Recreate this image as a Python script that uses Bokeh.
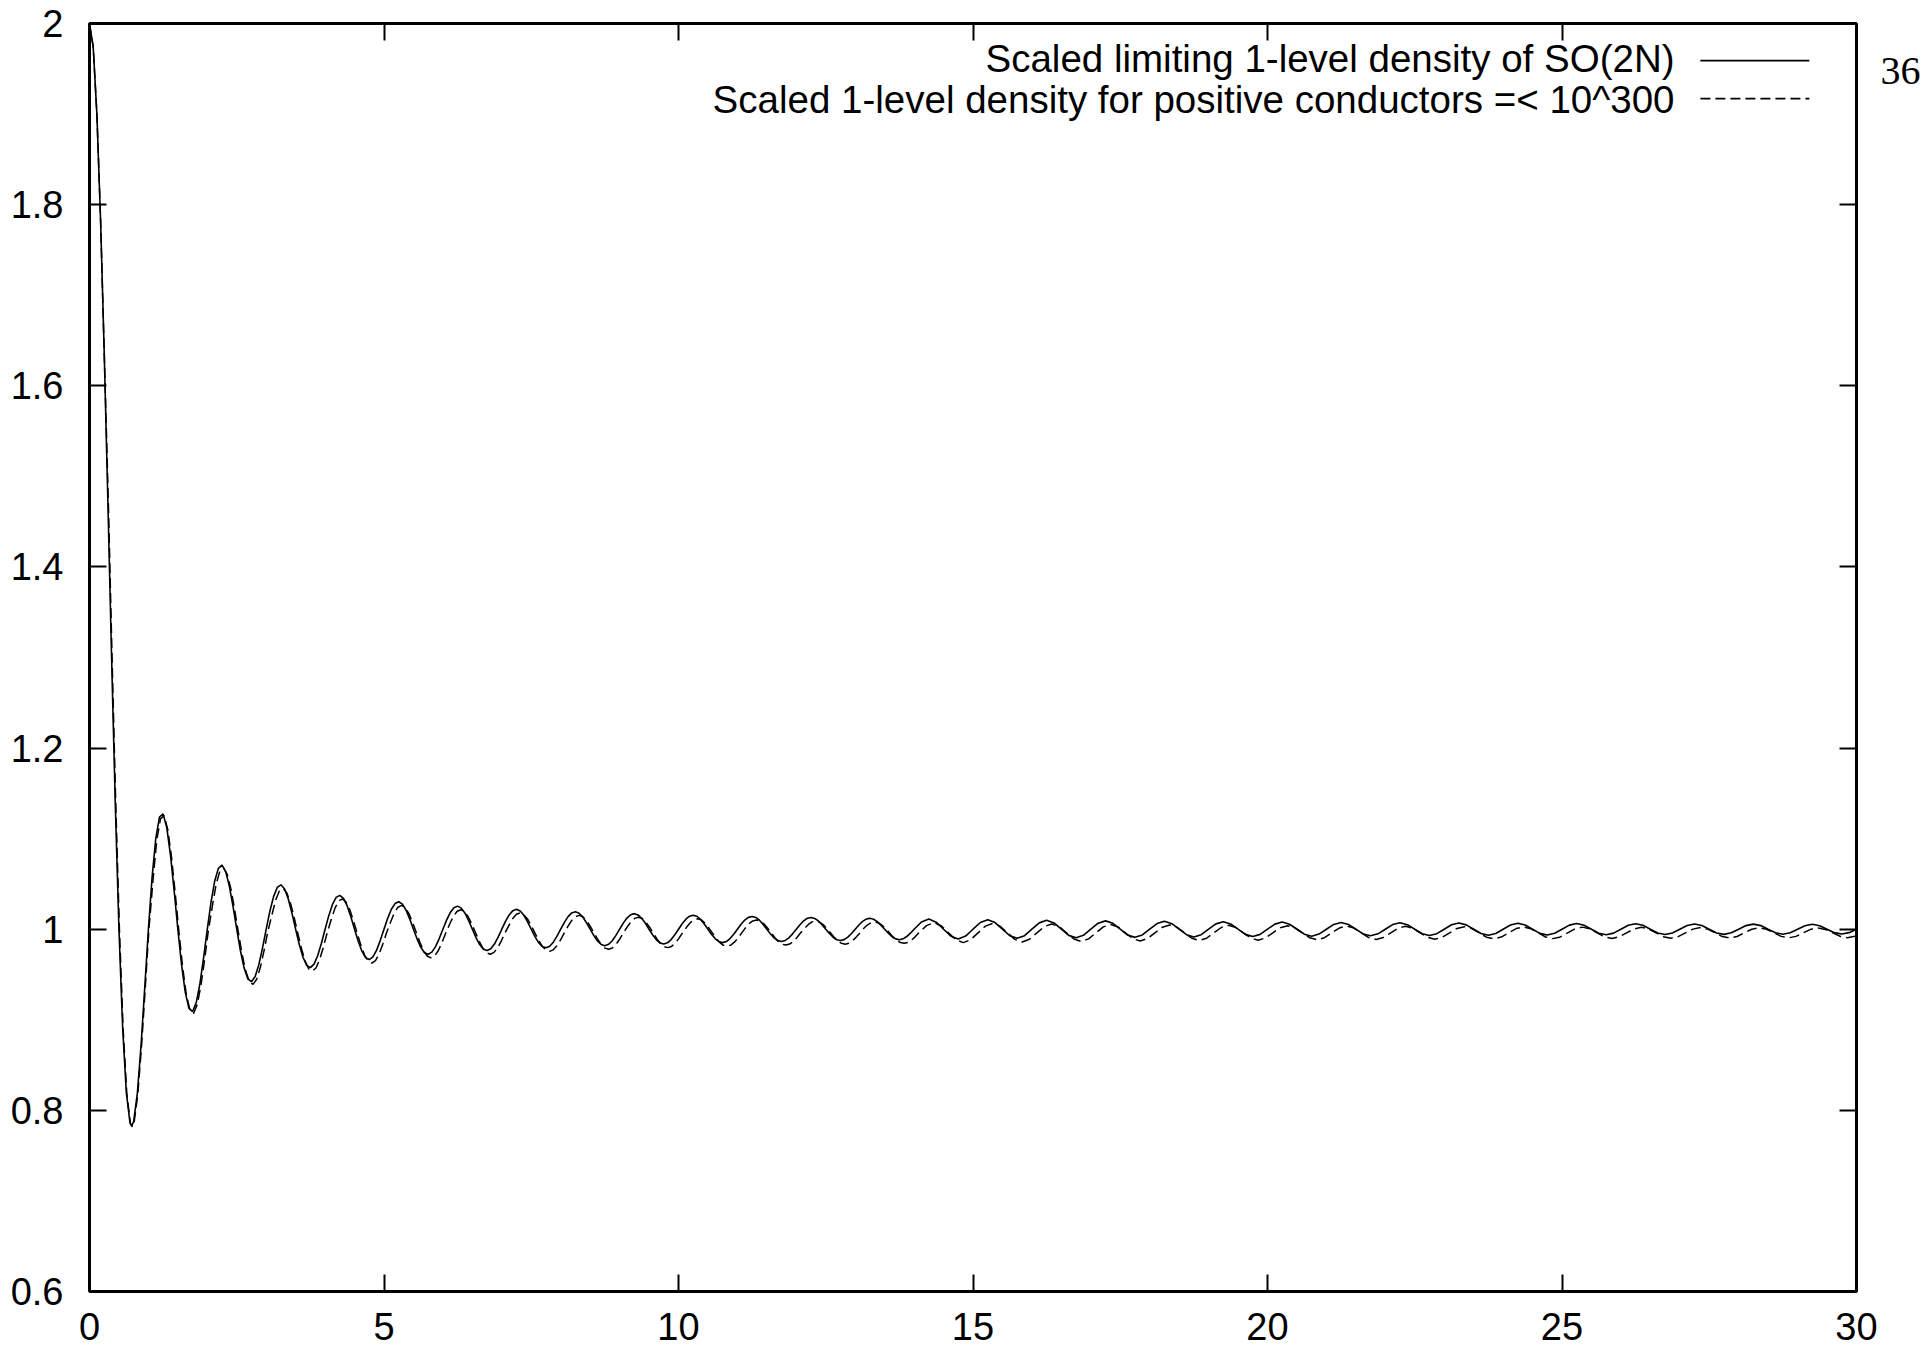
from bokeh.plotting import figure
from bokeh.models import Range1d, LinearAxis, FixedTicker, Label
from bokeh.layouts import row
from bokeh.embed import file_html
from bokeh.resources import INLINE

# ---------------- data ----------------
series_names = [
    "Scaled limiting 1-level density of SO(2N)",
    "Scaled 1-level density for positive conductors =< 10^300",
]
page_number = "36"

x_ticks = [0, 5, 10, 15, 20, 25, 30]
x_tick_labels = ["0", "5", "10", "15", "20", "25", "30"]
y_ticks = [0.6, 0.8, 1.0, 1.2, 1.4, 1.6, 1.8, 2.0]
y_tick_labels = ["0.6", "0.8", "1", "1.2", "1.4", "1.6", "1.8", "2"]

solid_x = [
    0.0, 0.0625, 0.125, 0.1875, 0.25, 0.3125, 0.375, 0.4375, 0.5, 0.5625, 0.625, 0.6875, 0.71875, 0.75, 0.8125, 0.875, 0.9375,
    1.0, 1.0625, 1.125, 1.1875, 1.25, 1.3125, 1.375, 1.4375, 1.5, 1.5625, 1.625, 1.6875, 1.75, 1.8125, 1.875, 1.9375,
    2.0, 2.0625, 2.125, 2.1875, 2.25, 2.3125, 2.375, 2.4375, 2.5, 2.5625, 2.625, 2.6875, 2.75, 2.8125, 2.875, 2.9375,
    3.0, 3.0625, 3.125, 3.1875, 3.25, 3.3125, 3.375, 3.4375, 3.5, 3.5625, 3.625, 3.6875, 3.75, 3.8125, 3.875, 3.9375,
    4.0, 4.0625, 4.125, 4.1875, 4.25, 4.3125, 4.375, 4.4375, 4.5, 4.5625, 4.625, 4.6875, 4.75, 4.8125, 4.875, 4.9375,
    5.0, 5.0625, 5.125, 5.1875, 5.25, 5.3125, 5.375, 5.4375, 5.5, 5.5625, 5.625, 5.6875, 5.75, 5.8125, 5.875, 5.9375,
    6.0, 6.0625, 6.125, 6.1875, 6.25, 6.3125, 6.375, 6.4375, 6.5, 6.5625, 6.625, 6.6875, 6.75, 6.8125, 6.875, 6.9375,
    7.0, 7.0625, 7.125, 7.1875, 7.25, 7.3125, 7.375, 7.4375, 7.5, 7.5625, 7.625, 7.6875, 7.75, 7.8125, 7.875, 7.9375,
    8.0, 8.0625, 8.125, 8.1875, 8.25, 8.3125, 8.375, 8.4375, 8.5, 8.5625, 8.625, 8.6875, 8.75, 8.8125, 8.875, 8.9375,
    9.0, 9.0625, 9.125, 9.1875, 9.25, 9.3125, 9.375, 9.4375, 9.5, 9.5625, 9.625, 9.6875, 9.75, 9.8125, 9.875, 9.9375,
    10.0, 10.0625, 10.125, 10.1875, 10.25, 10.3125, 10.375, 10.4375, 10.5, 10.5625, 10.625, 10.6875, 10.75, 10.8125, 10.875, 10.9375,
    11.0, 11.0625, 11.125, 11.1875, 11.25, 11.3125, 11.375, 11.4375, 11.5, 11.5625, 11.625, 11.6875, 11.75, 11.8125, 11.875, 11.9375,
    12.0, 12.0625, 12.125, 12.1875, 12.25, 12.3125, 12.375, 12.4375, 12.5, 12.5625, 12.625, 12.6875, 12.75, 12.8125, 12.875, 12.9375,
    13.0, 13.0625, 13.125, 13.1875, 13.25, 13.3125, 13.375, 13.4375, 13.5, 13.5625, 13.625, 13.6875, 13.75, 13.8125, 13.875, 13.9375,
    14.0,
    14.125, 14.25, 14.375, 14.5, 14.625, 14.75, 14.875, 15.0,
    15.125, 15.25, 15.375, 15.5, 15.625, 15.75, 15.875, 16.0,
    16.125, 16.25, 16.375, 16.5, 16.625, 16.75, 16.875, 17.0,
    17.125, 17.25, 17.375, 17.5, 17.625, 17.75, 17.875, 18.0,
    18.125, 18.25, 18.375, 18.5, 18.625, 18.75, 18.875, 19.0,
    19.125, 19.25, 19.375, 19.5, 19.625, 19.75, 19.875, 20.0,
    20.125, 20.25, 20.375, 20.5, 20.625, 20.75, 20.875, 21.0,
    21.125, 21.25, 21.375, 21.5, 21.625, 21.75, 21.875, 22.0,
    22.125, 22.25, 22.375, 22.5, 22.625, 22.75, 22.875, 23.0,
    23.125, 23.25, 23.375, 23.5, 23.625, 23.75, 23.875, 24.0,
    24.125, 24.25, 24.375, 24.5, 24.625, 24.75, 24.875, 25.0,
    25.125, 25.25, 25.375, 25.5, 25.625, 25.75, 25.875, 26.0,
    26.125, 26.25, 26.375, 26.5, 26.625, 26.75, 26.875, 27.0,
    27.125, 27.25, 27.375, 27.5, 27.625, 27.75, 27.875, 28.0,
    28.125, 28.25, 28.375, 28.5, 28.625, 28.75, 28.875, 29.0,
    29.125, 29.25, 29.375, 29.5, 29.625, 29.75, 29.875, 30.0,
]

solid_y = [
    2.0, 1.9745, 1.9003, 1.7842, 1.6366, 1.4705, 1.3001, 1.1392, 1.0, 0.8917, 0.8199, 0.7861, 0.7828, 0.7878, 0.8190, 0.8714, 0.9350,
    1.0, 1.0573, 1.1000, 1.1238, 1.1273, 1.1120, 1.0818, 1.0424, 1.0, 0.9610, 0.9307, 0.9129, 0.9091, 0.9189, 0.9400, 0.9686,
    1.0, 1.0295, 1.0530, 1.0672, 1.0707, 1.0636, 1.0474, 1.0250, 1.0, 0.9762, 0.9571, 0.9453, 0.9421, 0.9477, 0.9609, 0.9793,
    1.0, 1.0199, 1.0360, 1.0461, 1.0490, 1.0444, 1.0333, 1.0177, 1.0, 0.9829, 0.9690, 0.9601, 0.9576, 0.9614, 0.9710, 0.9845,
    1.0, 1.0150, 1.0273, 1.0351, 1.0374, 1.0341, 1.0257, 1.0137, 1.0, 0.9867, 0.9757, 0.9686, 0.9665, 0.9694, 0.9769, 0.9877,
    1.0, 1.0120, 1.0220, 1.0283, 1.0303, 1.0277, 1.0209, 1.0112, 1.0, 0.9891, 0.9800, 0.9741, 0.9723, 0.9747, 0.9808, 0.9897,
    1.0, 1.0100, 1.0184, 1.0238, 1.0255, 1.0233, 1.0177, 1.0095, 1.0, 0.9907, 0.9830, 0.9780, 0.9764, 0.9784, 0.9836, 0.9912,
    1.0, 1.0086, 1.0158, 1.0205, 1.0220, 1.0201, 1.0153, 1.0082, 1.0, 0.9919, 0.9852, 0.9809, 0.9795, 0.9812, 0.9857, 0.9923,
    1.0, 1.0076, 1.0139, 1.0180, 1.0193, 1.0177, 1.0134, 1.0072, 1.0, 0.9929, 0.9870, 0.9831, 0.9818, 0.9833, 0.9873, 0.9932,
    1.0, 1.0067, 1.0123, 1.0160, 1.0172, 1.0158, 1.0120, 1.0065, 1.0, 0.9936, 0.9883, 0.9848, 0.9837, 0.9850, 0.9886, 0.9939,
    1.0, 1.0061, 1.0111, 1.0144, 1.0155, 1.0143, 1.0108, 1.0058, 1.0, 0.9942, 0.9894, 0.9862, 0.9852, 0.9864, 0.9897, 0.9944,
    1.0, 1.0055, 1.0101, 1.0131, 1.0141, 1.0130, 1.0099, 1.0053, 1.0, 0.9947, 0.9903, 0.9874, 0.9865, 0.9876, 0.9905, 0.9949,
    1.0, 1.0050, 1.0093, 1.0121, 1.0130, 1.0119, 1.0091, 1.0049, 1.0, 0.9952, 0.9911, 0.9884, 0.9875, 0.9885, 0.9913, 0.9953,
    1.0, 1.0047, 1.0086, 1.0112, 1.0120, 1.0110, 1.0084, 1.0045, 1.0, 0.9955, 0.9917, 0.9893, 0.9884, 0.9894, 0.9919, 0.9956,
    1.0,
    1.0080, 1.0112, 1.0078, 1.0, 0.9923, 0.9892, 0.9924, 1.0,
    1.0074, 1.0104, 1.0073, 1.0, 0.9928, 0.9899, 0.9929, 1.0,
    1.0070, 1.0098, 1.0069, 1.0, 0.9932, 0.9905, 0.9933, 1.0,
    1.0066, 1.0092, 1.0065, 1.0, 0.9936, 0.9910, 0.9937, 1.0,
    1.0062, 1.0087, 1.0061, 1.0, 0.9940, 0.9915, 0.9940, 1.0,
    1.0059, 1.0083, 1.0058, 1.0, 0.9943, 0.9919, 0.9943, 1.0,
    1.0056, 1.0079, 1.0055, 1.0, 0.9945, 0.9923, 0.9946, 1.0,
    1.0053, 1.0075, 1.0053, 1.0, 0.9948, 0.9927, 0.9949, 1.0,
    1.0051, 1.0072, 1.0050, 1.0, 0.9950, 0.9930, 0.9951, 1.0,
    1.0049, 1.0068, 1.0048, 1.0, 0.9952, 0.9933, 0.9953, 1.0,
    1.0047, 1.0066, 1.0046, 1.0, 0.9954, 0.9936, 0.9955, 1.0,
    1.0045, 1.0063, 1.0044, 1.0, 0.9956, 0.9938, 0.9957, 1.0,
    1.0043, 1.0061, 1.0043, 1.0, 0.9958, 0.9941, 0.9958, 1.0,
    1.0041, 1.0058, 1.0041, 1.0, 0.9959, 0.9943, 0.9960, 1.0,
    1.0040, 1.0056, 1.0040, 1.0, 0.9961, 0.9945, 0.9961, 1.0,
    1.0039, 1.0054, 1.0038, 1.0, 0.9962, 0.9947, 0.9962, 1.0,
]

dashed_x = [
    0.0, 0.0625, 0.125, 0.1875, 0.25, 0.3205, 0.383, 0.4455, 0.508, 0.5705, 0.633, 0.6955, 0.72675, 0.758, 0.8205, 0.883, 0.9455,
    1.008, 1.0795, 1.142, 1.2045, 1.267, 1.3295, 1.392, 1.4545, 1.517, 1.5795, 1.642, 1.7045, 1.767, 1.8295, 1.892, 1.9545,
    2.017, 2.0885, 2.151, 2.2135, 2.276, 2.3385, 2.401, 2.4635, 2.526, 2.5885, 2.651, 2.7135, 2.776, 2.8385, 2.901, 2.9635,
    3.026,
    3.0975, 3.16, 3.2225, 3.285, 3.3475, 3.41, 3.4725, 3.535, 3.5975, 3.66, 3.7225, 3.785, 3.8475, 3.91, 3.9725, 4.035,
    4.1055, 4.168, 4.2305, 4.293, 4.3555, 4.418, 4.4805, 4.543, 4.6055, 4.668, 4.7305, 4.793, 4.8555, 4.918, 4.9805, 5.043,
    5.1125, 5.175, 5.2375, 5.3, 5.3625, 5.425, 5.4875, 5.55, 5.6125, 5.675, 5.7375, 5.8, 5.8625, 5.925, 5.9875, 6.05,
    6.1175, 6.18, 6.2425, 6.305, 6.3675, 6.43, 6.4925, 6.555, 6.6175, 6.68, 6.7425, 6.805, 6.8675, 6.93, 6.9925, 7.055,
    7.1235, 7.186, 7.2485, 7.311, 7.3735, 7.436, 7.4985, 7.561, 7.6235, 7.686, 7.7485, 7.811, 7.8735, 7.936, 7.9985, 8.061,
    8.1275, 8.19, 8.2525, 8.315, 8.3775, 8.44, 8.5025, 8.565, 8.6275, 8.69, 8.7525, 8.815, 8.8775, 8.94, 9.0025, 9.065,
    9.1315, 9.194, 9.2565, 9.319, 9.3815, 9.444, 9.5065, 9.569, 9.6315, 9.694, 9.7565, 9.819, 9.8815, 9.944, 10.0065, 10.069,
    10.1365, 10.199, 10.2615, 10.324, 10.3865, 10.449, 10.5115, 10.574, 10.6365, 10.699, 10.7615, 10.824, 10.8865, 10.949, 11.0115, 11.074,
    11.1365, 11.199, 11.2615, 11.324, 11.3865, 11.449, 11.5115, 11.574, 11.6365, 11.699, 11.7615, 11.824, 11.8865, 11.949, 12.0115, 12.074,
    12.1425, 12.205, 12.2675, 12.33, 12.3925, 12.455, 12.5175, 12.58, 12.6425, 12.705, 12.7675, 12.83, 12.8925, 12.955, 13.0175, 13.08,
    13.1425, 13.205, 13.2675, 13.33, 13.3925, 13.455, 13.5175, 13.58, 13.6425, 13.705, 13.7675, 13.83, 13.8925, 13.955, 14.0175, 14.08,
    14.21, 14.335, 14.46, 14.585, 14.71, 14.835, 14.96, 15.085,
    15.21, 15.335, 15.46, 15.585, 15.71, 15.835, 15.96, 16.085,
    16.213, 16.338, 16.463, 16.588, 16.713, 16.838, 16.963, 17.088,
    17.213, 17.338, 17.463, 17.588, 17.713, 17.838, 17.963, 18.088,
    18.215, 18.34, 18.465, 18.59, 18.715, 18.84, 18.965, 19.09,
    19.215, 19.34, 19.465, 19.59, 19.715, 19.84, 19.965, 20.09,
    20.218, 20.343, 20.468, 20.593, 20.718, 20.843, 20.968, 21.093,
    21.218, 21.343, 21.468, 21.593, 21.718, 21.843, 21.968, 22.093,
    22.218, 22.343, 22.468, 22.593, 22.718, 22.843, 22.968, 23.093,
    23.218, 23.343, 23.468, 23.593, 23.718, 23.843, 23.968, 24.093,
    24.222, 24.347, 24.472, 24.597, 24.722, 24.847, 24.972, 25.097,
    25.222, 25.347, 25.472, 25.597, 25.722, 25.847, 25.972, 26.097,
    26.222, 26.347, 26.472, 26.597, 26.722, 26.847, 26.972, 27.097,
    27.222, 27.347, 27.472, 27.597, 27.722, 27.847, 27.972, 28.097,
    28.222, 28.347, 28.472, 28.597, 28.722, 28.847, 28.972, 29.097,
    29.222, 29.347, 29.472, 29.597, 29.722, 29.847, 29.972, 30.097,
]

dashed_y = [
    2.0, 1.9745, 1.9003, 1.7842, 1.6366, 1.4705, 1.3001, 1.1392, 1.0, 0.8907, 0.8189, 0.7851, 0.7818, 0.7868, 0.8180, 0.8704, 0.9340,
    0.999, 1.0553, 1.0980, 1.1218, 1.1253, 1.1100, 1.0798, 1.0404, 0.998, 0.9590, 0.9287, 0.9109, 0.9071, 0.9169, 0.9380, 0.9666,
    0.998, 1.0265, 1.0500, 1.0642, 1.0677, 1.0606, 1.0444, 1.0220, 0.997, 0.9732, 0.9541, 0.9423, 0.9391, 0.9447, 0.9579, 0.9763,
    0.997,
    1.0159, 1.0320, 1.0421, 1.0450, 1.0404, 1.0293, 1.0137, 0.996, 0.9789, 0.9650, 0.9561, 0.9536, 0.9574, 0.9670, 0.9805, 0.996,
    1.0110, 1.0233, 1.0311, 1.0334, 1.0301, 1.0217, 1.0097, 0.996, 0.9827, 0.9717, 0.9646, 0.9625, 0.9654, 0.9729, 0.9837, 0.996,
    1.0080, 1.0180, 1.0243, 1.0263, 1.0237, 1.0169, 1.0072, 0.996, 0.9851, 0.9760, 0.9701, 0.9683, 0.9707, 0.9768, 0.9857, 0.996,
    1.0060, 1.0144, 1.0198, 1.0215, 1.0193, 1.0137, 1.0055, 0.996, 0.9867, 0.9790, 0.9740, 0.9724, 0.9744, 0.9796, 0.9872, 0.996,
    1.0046, 1.0118, 1.0165, 1.0180, 1.0161, 1.0113, 1.0042, 0.996, 0.9879, 0.9812, 0.9769, 0.9755, 0.9772, 0.9817, 0.9883, 0.996,
    1.0036, 1.0099, 1.0140, 1.0153, 1.0137, 1.0094, 1.0032, 0.996, 0.9889, 0.9830, 0.9791, 0.9778, 0.9793, 0.9833, 0.9892, 0.996,
    1.0027, 1.0083, 1.0120, 1.0132, 1.0118, 1.0080, 1.0025, 0.996, 0.9896, 0.9843, 0.9808, 0.9797, 0.9810, 0.9846, 0.9899, 0.996,
    1.0021, 1.0071, 1.0104, 1.0115, 1.0103, 1.0068, 1.0018, 0.996, 0.9902, 0.9854, 0.9822, 0.9812, 0.9824, 0.9857, 0.9904, 0.996,
    1.0015, 1.0061, 1.0091, 1.0101, 1.0090, 1.0059, 1.0013, 0.996, 0.9907, 0.9863, 0.9834, 0.9825, 0.9836, 0.9865, 0.9909, 0.996,
    1.0010, 1.0053, 1.0081, 1.0090, 1.0079, 1.0051, 1.0009, 0.996, 0.9912, 0.9871, 0.9844, 0.9835, 0.9845, 0.9873, 0.9913, 0.996,
    1.0007, 1.0046, 1.0072, 1.0080, 1.0070, 1.0044, 1.0005, 0.996, 0.9915, 0.9877, 0.9853, 0.9844, 0.9854, 0.9879, 0.9916, 0.996,
    1.0040, 1.0072, 1.0038, 0.996, 0.9883, 0.9852, 0.9884, 0.996,
    1.0034, 1.0064, 1.0033, 0.996, 0.9888, 0.9859, 0.9889, 0.996,
    1.0030, 1.0058, 1.0029, 0.996, 0.9892, 0.9865, 0.9893, 0.996,
    1.0026, 1.0052, 1.0025, 0.996, 0.9896, 0.9870, 0.9897, 0.996,
    1.0022, 1.0047, 1.0021, 0.996, 0.9900, 0.9875, 0.9900, 0.996,
    1.0019, 1.0043, 1.0018, 0.996, 0.9903, 0.9879, 0.9903, 0.996,
    1.0016, 1.0039, 1.0015, 0.996, 0.9905, 0.9883, 0.9906, 0.996,
    1.0013, 1.0035, 1.0013, 0.996, 0.9908, 0.9887, 0.9909, 0.996,
    1.0011, 1.0032, 1.0010, 0.996, 0.9910, 0.9890, 0.9911, 0.996,
    1.0009, 1.0028, 1.0008, 0.996, 0.9912, 0.9893, 0.9913, 0.996,
    1.0007, 1.0026, 1.0006, 0.996, 0.9914, 0.9896, 0.9915, 0.996,
    1.0005, 1.0023, 1.0004, 0.996, 0.9916, 0.9898, 0.9917, 0.996,
    1.0003, 1.0021, 1.0003, 0.996, 0.9918, 0.9901, 0.9918, 0.996,
    1.0001, 1.0018, 1.0001, 0.996, 0.9919, 0.9903, 0.9920, 0.996,
    1.0000, 1.0016, 1.0000, 0.996, 0.9921, 0.9905, 0.9921, 0.996,
    0.9999, 1.0014, 0.9998, 0.996, 0.9922, 0.9907, 0.9922, 0.996,
]

# ---------------- styling ----------------
FONT = "Liberation Sans"
TICK_FONT_SIZE = "38px"
KEY_FONT_SIZE = "38.5px"
DASH = "10 5"

p = figure(
    width=1880, height=1350,
    output_backend="svg", toolbar_location=None,
    x_range=Range1d(0, 30), y_range=Range1d(0.6, 2.0),
    min_border_left=89, min_border_right=24, min_border_top=23, min_border_bottom=59,
)
p.xgrid.visible = False
p.ygrid.visible = False
p.background_fill_color = "white"
p.border_fill_color = "white"
p.outline_line_color = "black"
p.outline_line_width = 3


def style_axis(ax, ticks, labels, show_labels, standoff):
    ax.ticker = FixedTicker(ticks=ticks)
    ax.major_label_overrides = dict(zip(ticks, labels))
    ax.axis_line_color = None
    ax.major_tick_in = 17
    ax.major_tick_out = 0
    ax.major_tick_line_width = 2
    ax.major_tick_line_color = "black"
    ax.minor_tick_line_color = None
    if show_labels:
        ax.major_label_text_font = FONT
        ax.major_label_text_font_size = TICK_FONT_SIZE
        ax.major_label_text_color = "black"
        ax.major_label_standoff = standoff
    else:
        ax.major_label_text_color = None
        ax.major_label_text_font_size = "0px"
        ax.major_label_standoff = 0


style_axis(p.xaxis[0], x_ticks, x_tick_labels, True, 21)
style_axis(p.yaxis[0], y_ticks, y_tick_labels, True, 26)

top_axis = LinearAxis()
right_axis = LinearAxis()
p.add_layout(top_axis, "above")
p.add_layout(right_axis, "right")
style_axis(top_axis, x_ticks, x_tick_labels, False, 0)
style_axis(right_axis, y_ticks, y_tick_labels, False, 0)

# curves
p.line(solid_x, solid_y, line_color="black", line_width=1.6)
p.line(dashed_x, dashed_y, line_color="black", line_width=1.5, line_dash=DASH)

# key (text right-aligned, sample line on the right, as in the original)
key_rows = [(-35, 1.959, "solid"), (-76, 1.917, DASH)]
for name, (yoff, ysample, dash) in zip(series_names, key_rows):
    p.add_layout(Label(x=30, y=2.0, x_offset=-182, y_offset=yoff, text=name,
                       text_align="right", text_baseline="alphabetic",
                       text_font=FONT, text_font_size=KEY_FONT_SIZE, text_color="black"))
    p.segment(x0=[27.35], y0=[ysample], x1=[29.2], y1=[ysample],
              line_color="black", line_width=1.6, line_dash=dash)

# page number, to the right of the plot box (a narrow companion figure
# whose frame lines up with the main frame)
side = figure(width=45, height=1350, output_backend="svg", toolbar_location=None,
              x_range=Range1d(0, 1), y_range=Range1d(0.6, 2.0),
              x_axis_location=None, y_axis_location=None,
              min_border_left=0, min_border_right=0, min_border_top=23, min_border_bottom=59,
              outline_line_color=None)
side.xgrid.visible = False
side.ygrid.visible = False
side.background_fill_color = "white"
side.border_fill_color = "white"
side.add_layout(Label(x=0, y=2.0, x_units="screen", y_offset=-47, text=page_number,
                      text_align="left", text_baseline="alphabetic",
                      text_font="Liberation Serif", text_font_size="40px", text_color="black"))

layout = row(p, side)
open("out.html", "w").write(file_html(layout, INLINE))
